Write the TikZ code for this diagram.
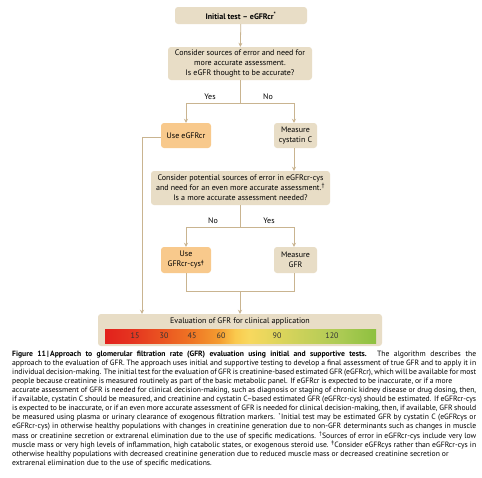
\documentclass[tikz,border=0pt]{standalone}
\usepackage{fontspec}
\setmainfont{PT Sans}
\usetikzlibrary{arrows.meta}
\definecolor{tanbox}{HTML}{E8DDC6}
\definecolor{orbox}{HTML}{F8C98C}
\definecolor{lnc}{HTML}{C9B490}
\definecolor{g0}{HTML}{E2211C}
\definecolor{g1}{HTML}{E53520}
\definecolor{g2}{HTML}{EA5421}
\definecolor{g3}{HTML}{EF7624}
\definecolor{g4}{HTML}{F49C30}
\definecolor{g5}{HTML}{FAC94D}
\definecolor{g6}{HTML}{F8D85E}
\definecolor{g7}{HTML}{E3D65C}
\definecolor{g8}{HTML}{CBD15A}
\definecolor{g9}{HTML}{AECB55}
\definecolor{g10}{HTML}{8DC03F}
\pgfdeclarehorizontalshading{gfrgrad}{100bp}{color(0bp)=(g0); color(25bp)=(g0); color(30bp)=(g1); color(35.5bp)=(g2); color(41bp)=(g3); color(46bp)=(g4); color(49bp)=(g5); color(51.5bp)=(g6); color(56bp)=(g7); color(61bp)=(g8); color(68bp)=(g9); color(75bp)=(g10); color(100bp)=(g10)}
\tikzset{
  box/.style={fill=tanbox, rounded corners=3pt, inner sep=0pt, align=center, font=\fontsize{8}{10}\selectfont},
  obox/.style={box, fill=orbox},
  conn/.style={draw=lnc, line width=0.8pt},
  arr/.style={conn, -{Stealth[length=4pt,width=4pt]}},
  lbl/.style={font=\fontsize{8}{10}\selectfont, inner sep=0pt},
  num/.style={font=\fontsize{8}{10}\selectfont, inner sep=0pt, text=black!80}
}
\begin{document}
\begin{tikzpicture}[x=1pt,y=-1pt]
\useasboundingbox (0,0) rectangle (482,477);
\fill[white] (0,0) rectangle (482,477);
% boxes
\node[box, minimum width=132pt, minimum height=17pt, font=\fontsize{8}{10}\selectfont\bfseries] (n1) at (241,15.5) {Initial test -- eGFRcr\textsuperscript{*}};
\node[box, minimum width=144pt, minimum height=33pt] (n2) at (240,63.5) {Consider sources of error and need for\\more accurate assessment.\\Is eGFR thought to be accurate?};
\node[obox, minimum width=50pt, minimum height=25pt] (n3) at (186,135.5) {Use eGFRcr};
\node[box, minimum width=43pt, minimum height=25pt] (n4) at (295.5,135.5) {Measure\\cystatin C};
\node[box, minimum width=179pt, minimum height=34pt] (n5) at (240.5,188) {Consider potential sources of error in eGFRcr-cys\\and need for an even more accurate assessment.\textsuperscript{\dag}\\Is a more accurate assessment needed?};
\node[obox, minimum width=50pt, minimum height=26pt] (n6) at (186,260) {Use\\GFRcr-cys\textsuperscript{\ddag}};
\node[box, minimum width=43pt, minimum height=26pt] (n7) at (295.5,260) {Measure\\GFR};
% bottom bar
\node[box, minimum width=284pt, minimum height=32pt] (bar) at (240,330) {};
\node[lbl, anchor=center] (bart) at (240,321.5) {Evaluation of GFR for clinical application};
\shade[shading=gfrgrad] (105,329) rectangle (376,343);
\foreach \v/\x in {15/135,30/164,45/192,60/221,90/277,120/332}{
  \node[num] (t\v) at (\x,336) {\v};
}
% labels
\node[lbl] (y1) at (210,97) {Yes};
\node[lbl] (no1) at (268,97) {No};
\node[lbl] (no2) at (213,221) {No};
\node[lbl] (y2) at (269,221) {Yes};
% connectors
\draw[arr] (n1) -- (n2);
\coordinate (j1) at (240,103);
\coordinate (j1l) at (186,103);
\coordinate (j1r) at (294,103);
\draw[conn] (n2.south) -- (j1);
\draw[conn] (j1l) -- (j1r);
\draw[arr] (j1l) -- (n3.north);
\draw[arr] (j1r) -- (n4.north -| j1r);
\draw[arr] (n4.south -| j1r) -- (n5.north -| j1r);
\coordinate (j2) at (240,227);
\coordinate (j2l) at (186,227);
\coordinate (j2r) at (294,227);
\draw[conn] (n5.south -| j2) -- (j2);
\draw[conn] (j2l) -- (j2r);
\draw[arr] (j2l) -- (n6.north);
\draw[arr] (j2r) -- (n7.north -| j2r);
\coordinate (j3) at (240,291);
\coordinate (j3l) at (186,291);
\coordinate (j3r) at (294,291);
\draw[conn] (n6.south) -- (j3l) -- (j3r) -- (n7.south -| j3r);
\draw[arr] (j3) -- (bar.north -| j3);
\coordinate (k1) at (142,137);
\draw[arr] (n3.west |- k1) -- (k1) -- (bar.north -| k1);
% caption
\node[anchor=north west, inner sep=0pt, text width=464pt, align=justify, font=\fontsize{7.65}{9.1}\selectfont] (cap) at (12,350.5) {%
\textbf{Figure 11\,|\,Approach to glomerular filtration rate (GFR) evaluation using initial and supportive tests.} The algorithm describes the\linebreak
approach to the evaluation of GFR. The approach uses initial and supportive testing to develop a final assessment of true GFR and to apply it in\linebreak
individual decision-making. The initial test for the evaluation of GFR is creatinine-based estimated GFR (eGFRcr), which will be available for most\linebreak
people because creatinine is measured routinely as part of the basic metabolic panel. If eGFRcr is expected to be inaccurate, or if a more\hspace*{24pt}\linebreak
accurate assessment of GFR is needed for clinical decision-making, such as diagnosis or staging of chronic kidney disease or drug dosing, then,\linebreak
if available, cystatin C should be measured, and creatinine and cystatin C--based estimated GFR (eGFRcr-cys) should be estimated. If eGFRcr-cys\linebreak
is expected to be inaccurate, or if an even more accurate assessment of GFR is needed for clinical decision-making, then, if available, GFR should\linebreak
be measured using plasma or urinary clearance of exogenous filtration markers. \textsuperscript{*}Initial test may be estimated GFR by cystatin C (eGFRcys or\linebreak
eGFRcr-cys) in otherwise healthy populations with changes in creatinine generation due to non-GFR determinants such as changes in muscle\linebreak
mass or creatinine secretion or extrarenal elimination due to the use of specific medications. \textsuperscript{\dag}Sources of error in eGFRcr-cys include very low\linebreak
muscle mass or very high levels of inflammation, high catabolic states, or exogenous steroid use. \textsuperscript{\ddag}Consider eGFRcys rather than eGFRcr-cys in\linebreak
otherwise healthy populations with decreased creatinine generation due to reduced muscle mass or decreased creatinine secretion or\\
extrarenal elimination due to the use of specific medications.};
\end{tikzpicture}
\end{document}
